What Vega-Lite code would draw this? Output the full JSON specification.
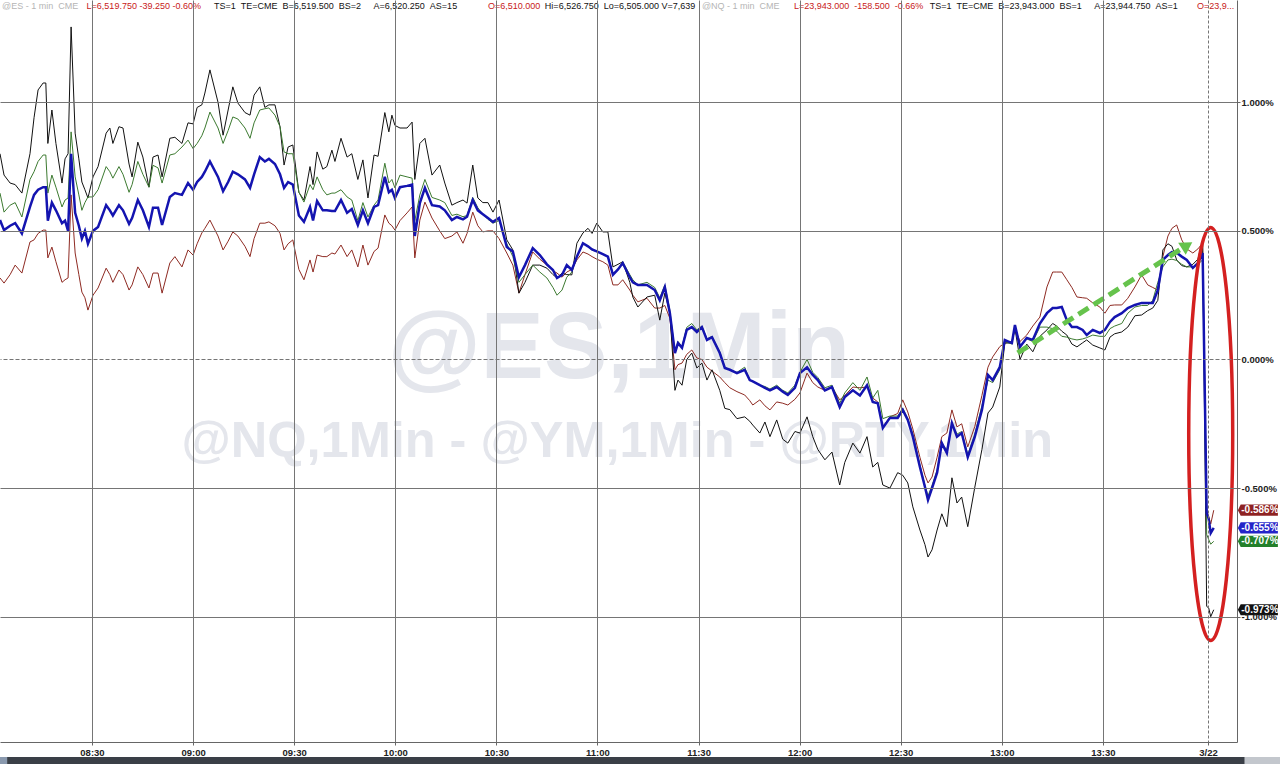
{
  "$schema": "https://vega.github.io/schema/vega-lite/v6.json",
  "width": 1237,
  "height": 742,
  "autosize": "none",
  "padding": {"left": 0, "top": 0, "right": 43, "bottom": 22},
  "background": "white",
  "config": {"view": {"stroke": null}},
  "data": {"values": [{}]},
  "datasets": {
    "series": [
      {"t": 2.7, "es": 0.542, "nq": 0.647, "rty": 0.8, "ym": 0.317},
      {"t": 3.9, "es": 0.503, "nq": 0.573, "rty": 0.717, "ym": 0.297},
      {"t": 5.7, "es": 0.52, "nq": 0.6, "rty": 0.686, "ym": 0.33},
      {"t": 7.2, "es": 0.53, "nq": 0.61, "rty": 0.68, "ym": 0.367},
      {"t": 9.2, "es": 0.49, "nq": 0.554, "rty": 0.647, "ym": 0.336},
      {"t": 11.6, "es": 0.593, "nq": 0.7, "rty": 0.8, "ym": 0.457},
      {"t": 12.8, "es": 0.64, "nq": 0.73, "rty": 0.94, "ym": 0.465},
      {"t": 14.0, "es": 0.66, "nq": 0.77, "rty": 1.048, "ym": 0.49},
      {"t": 15.5, "es": 0.67, "nq": 0.795, "rty": 1.075, "ym": 0.503},
      {"t": 16.3, "es": 0.67, "nq": 0.795, "rty": 1.075, "ym": 0.503},
      {"t": 16.9, "es": 0.54, "nq": 0.647, "rty": 0.84, "ym": 0.395},
      {"t": 18.1, "es": 0.61, "nq": 0.717, "rty": 0.97, "ym": 0.437},
      {"t": 19.3, "es": 0.58, "nq": 0.67, "rty": 0.84, "ym": 0.38},
      {"t": 21.1, "es": 0.53, "nq": 0.593, "rty": 0.686, "ym": 0.3},
      {"t": 22.0, "es": 0.54, "nq": 0.62, "rty": 0.78, "ym": 0.31},
      {"t": 22.9, "es": 0.5, "nq": 0.628, "rty": 0.8, "ym": 0.317},
      {"t": 23.8, "es": 0.8, "nq": 0.885, "rty": 1.293, "ym": 0.64},
      {"t": 25.0, "es": 0.57, "nq": 0.71, "rty": 0.88, "ym": 0.414},
      {"t": 26.1, "es": 0.52, "nq": 0.64, "rty": 0.78, "ym": 0.33},
      {"t": 27.0, "es": 0.47, "nq": 0.58, "rty": 0.69, "ym": 0.262},
      {"t": 27.9, "es": 0.5, "nq": 0.61, "rty": 0.66, "ym": 0.24},
      {"t": 28.8, "es": 0.45, "nq": 0.632, "rty": 0.628, "ym": 0.192},
      {"t": 30.3, "es": 0.5, "nq": 0.632, "rty": 0.71, "ym": 0.25},
      {"t": 31.8, "es": 0.515, "nq": 0.66, "rty": 0.75, "ym": 0.278},
      {"t": 34.2, "es": 0.6, "nq": 0.75, "rty": 0.88, "ym": 0.355},
      {"t": 35.3, "es": 0.58, "nq": 0.73, "rty": 0.9, "ym": 0.33},
      {"t": 36.2, "es": 0.56, "nq": 0.705, "rty": 0.84, "ym": 0.3},
      {"t": 38.0, "es": 0.6, "nq": 0.75, "rty": 0.905, "ym": 0.348},
      {"t": 39.2, "es": 0.58, "nq": 0.72, "rty": 0.9, "ym": 0.33},
      {"t": 41.0, "es": 0.527, "nq": 0.65, "rty": 0.76, "ym": 0.27},
      {"t": 41.9, "es": 0.55, "nq": 0.68, "rty": 0.71, "ym": 0.29},
      {"t": 43.6, "es": 0.62, "nq": 0.77, "rty": 0.845, "ym": 0.36},
      {"t": 45.1, "es": 0.58, "nq": 0.72, "rty": 0.787, "ym": 0.33},
      {"t": 46.9, "es": 0.515, "nq": 0.67, "rty": 0.67, "ym": 0.278},
      {"t": 48.1, "es": 0.59, "nq": 0.755, "rty": 0.787, "ym": 0.336},
      {"t": 49.6, "es": 0.59, "nq": 0.745, "rty": 0.795, "ym": 0.336},
      {"t": 50.8, "es": 0.523, "nq": 0.686, "rty": 0.71, "ym": 0.258},
      {"t": 53.1, "es": 0.632, "nq": 0.795, "rty": 0.86, "ym": 0.375},
      {"t": 54.6, "es": 0.647, "nq": 0.8, "rty": 0.864, "ym": 0.4},
      {"t": 56.7, "es": 0.64, "nq": 0.826, "rty": 0.84, "ym": 0.36},
      {"t": 58.5, "es": 0.686, "nq": 0.853, "rty": 0.92, "ym": 0.426},
      {"t": 60.0, "es": 0.66, "nq": 0.82, "rty": 0.916, "ym": 0.406},
      {"t": 61.2, "es": 0.69, "nq": 0.84, "rty": 0.98, "ym": 0.45},
      {"t": 62.6, "es": 0.71, "nq": 0.87, "rty": 0.99, "ym": 0.492},
      {"t": 63.5, "es": 0.73, "nq": 0.9, "rty": 1.036, "ym": 0.51},
      {"t": 65.0, "es": 0.77, "nq": 0.962, "rty": 1.126, "ym": 0.542},
      {"t": 67.4, "es": 0.71, "nq": 0.9, "rty": 1.0, "ym": 0.48},
      {"t": 68.9, "es": 0.654, "nq": 0.84, "rty": 0.872, "ym": 0.426},
      {"t": 70.4, "es": 0.69, "nq": 0.89, "rty": 0.97, "ym": 0.46},
      {"t": 71.8, "es": 0.73, "nq": 0.943, "rty": 1.06, "ym": 0.496},
      {"t": 73.3, "es": 0.72, "nq": 0.935, "rty": 0.997, "ym": 0.48},
      {"t": 75.4, "es": 0.7, "nq": 0.9, "rty": 0.96, "ym": 0.44},
      {"t": 76.9, "es": 0.667, "nq": 0.86, "rty": 0.95, "ym": 0.4},
      {"t": 78.1, "es": 0.72, "nq": 0.92, "rty": 1.028, "ym": 0.47},
      {"t": 79.8, "es": 0.787, "nq": 0.97, "rty": 1.06, "ym": 0.53},
      {"t": 81.3, "es": 0.77, "nq": 0.975, "rty": 0.98, "ym": 0.53},
      {"t": 82.5, "es": 0.78, "nq": 0.978, "rty": 0.99, "ym": 0.535},
      {"t": 84.3, "es": 0.76, "nq": 0.95, "rty": 0.99, "ym": 0.52},
      {"t": 85.8, "es": 0.72, "nq": 0.905, "rty": 0.905, "ym": 0.49},
      {"t": 87.0, "es": 0.667, "nq": 0.807, "rty": 0.756, "ym": 0.426},
      {"t": 88.2, "es": 0.69, "nq": 0.8, "rty": 0.826, "ym": 0.45},
      {"t": 89.6, "es": 0.68, "nq": 0.8, "rty": 0.834, "ym": 0.465},
      {"t": 91.4, "es": 0.56, "nq": 0.65, "rty": 0.65, "ym": 0.35},
      {"t": 92.9, "es": 0.535, "nq": 0.612, "rty": 0.62, "ym": 0.31},
      {"t": 94.7, "es": 0.593, "nq": 0.68, "rty": 0.75, "ym": 0.387},
      {"t": 95.6, "es": 0.54, "nq": 0.66, "rty": 0.68, "ym": 0.34},
      {"t": 96.8, "es": 0.616, "nq": 0.71, "rty": 0.807, "ym": 0.406},
      {"t": 98.5, "es": 0.58, "nq": 0.66, "rty": 0.74, "ym": 0.4},
      {"t": 99.7, "es": 0.58, "nq": 0.64, "rty": 0.75, "ym": 0.4},
      {"t": 101.2, "es": 0.577, "nq": 0.647, "rty": 0.814, "ym": 0.414},
      {"t": 102.1, "es": 0.577, "nq": 0.647, "rty": 0.77, "ym": 0.41},
      {"t": 103.9, "es": 0.62, "nq": 0.66, "rty": 0.86, "ym": 0.445},
      {"t": 105.7, "es": 0.57, "nq": 0.632, "rty": 0.787, "ym": 0.4},
      {"t": 107.1, "es": 0.585, "nq": 0.62, "rty": 0.8, "ym": 0.426},
      {"t": 108.9, "es": 0.523, "nq": 0.54, "rty": 0.7, "ym": 0.36},
      {"t": 110.4, "es": 0.58, "nq": 0.61, "rty": 0.776, "ym": 0.445},
      {"t": 111.9, "es": 0.53, "nq": 0.554, "rty": 0.628, "ym": 0.367},
      {"t": 113.7, "es": 0.593, "nq": 0.6, "rty": 0.795, "ym": 0.42},
      {"t": 114.9, "es": 0.6, "nq": 0.62, "rty": 0.79, "ym": 0.433},
      {"t": 116.9, "es": 0.71, "nq": 0.763, "rty": 0.96, "ym": 0.562},
      {"t": 118.1, "es": 0.65, "nq": 0.686, "rty": 0.885, "ym": 0.53},
      {"t": 119.0, "es": 0.66, "nq": 0.7, "rty": 0.95, "ym": 0.52},
      {"t": 119.9, "es": 0.628, "nq": 0.667, "rty": 0.91, "ym": 0.503},
      {"t": 121.4, "es": 0.67, "nq": 0.717, "rty": 0.9, "ym": 0.54},
      {"t": 123.5, "es": 0.675, "nq": 0.71, "rty": 0.9, "ym": 0.57},
      {"t": 125.0, "es": 0.68, "nq": 0.705, "rty": 0.923, "ym": 0.593},
      {"t": 125.8, "es": 0.48, "nq": 0.54, "rty": 0.7, "ym": 0.395},
      {"t": 127.3, "es": 0.608, "nq": 0.64, "rty": 0.84, "ym": 0.542},
      {"t": 128.8, "es": 0.667, "nq": 0.7, "rty": 0.86, "ym": 0.612},
      {"t": 130.9, "es": 0.6, "nq": 0.63, "rty": 0.717, "ym": 0.55},
      {"t": 133.2, "es": 0.595, "nq": 0.62, "rty": 0.756, "ym": 0.5},
      {"t": 134.7, "es": 0.58, "nq": 0.61, "rty": 0.686, "ym": 0.47},
      {"t": 136.8, "es": 0.542, "nq": 0.56, "rty": 0.6, "ym": 0.48},
      {"t": 138.3, "es": 0.554, "nq": 0.565, "rty": 0.61, "ym": 0.496},
      {"t": 140.1, "es": 0.545, "nq": 0.555, "rty": 0.62, "ym": 0.452},
      {"t": 141.3, "es": 0.555, "nq": 0.56, "rty": 0.608, "ym": 0.49},
      {"t": 143.0, "es": 0.62, "nq": 0.63, "rty": 0.756, "ym": 0.573},
      {"t": 144.5, "es": 0.58, "nq": 0.59, "rty": 0.628, "ym": 0.52},
      {"t": 146.0, "es": 0.565, "nq": 0.565, "rty": 0.61, "ym": 0.496},
      {"t": 147.5, "es": 0.55, "nq": 0.545, "rty": 0.61, "ym": 0.5},
      {"t": 149.0, "es": 0.535, "nq": 0.53, "rty": 0.573, "ym": 0.5},
      {"t": 150.8, "es": 0.55, "nq": 0.54, "rty": 0.62, "ym": 0.47},
      {"t": 153.1, "es": 0.437, "nq": 0.45, "rty": 0.465, "ym": 0.414},
      {"t": 154.9, "es": 0.42, "nq": 0.4, "rty": 0.426, "ym": 0.367},
      {"t": 156.7, "es": 0.32, "nq": 0.3, "rty": 0.258, "ym": 0.258},
      {"t": 158.5, "es": 0.367, "nq": 0.33, "rty": 0.3, "ym": 0.33},
      {"t": 160.8, "es": 0.433, "nq": 0.367, "rty": 0.367, "ym": 0.418},
      {"t": 162.9, "es": 0.406, "nq": 0.34, "rty": 0.367, "ym": 0.39},
      {"t": 165.0, "es": 0.37, "nq": 0.317, "rty": 0.355, "ym": 0.367},
      {"t": 166.8, "es": 0.348, "nq": 0.28, "rty": 0.33, "ym": 0.345},
      {"t": 168.0, "es": 0.317, "nq": 0.25, "rty": 0.317, "ym": 0.336},
      {"t": 169.5, "es": 0.329, "nq": 0.27, "rty": 0.336, "ym": 0.32},
      {"t": 170.9, "es": 0.367, "nq": 0.32, "rty": 0.33, "ym": 0.34},
      {"t": 172.4, "es": 0.348, "nq": 0.34, "rty": 0.329, "ym": 0.35},
      {"t": 173.9, "es": 0.4, "nq": 0.4, "rty": 0.452, "ym": 0.387},
      {"t": 175.7, "es": 0.452, "nq": 0.45, "rty": 0.492, "ym": 0.418},
      {"t": 177.2, "es": 0.44, "nq": 0.44, "rty": 0.51, "ym": 0.41},
      {"t": 178.4, "es": 0.428, "nq": 0.425, "rty": 0.49, "ym": 0.4},
      {"t": 179.8, "es": 0.42, "nq": 0.42, "rty": 0.53, "ym": 0.39},
      {"t": 181.6, "es": 0.41, "nq": 0.41, "rty": 0.496, "ym": 0.38},
      {"t": 183.1, "es": 0.4, "nq": 0.4, "rty": 0.496, "ym": 0.367},
      {"t": 184.6, "es": 0.329, "nq": 0.335, "rty": 0.36, "ym": 0.29},
      {"t": 186.1, "es": 0.35, "nq": 0.35, "rty": 0.37, "ym": 0.29},
      {"t": 187.5, "es": 0.375, "nq": 0.38, "rty": 0.38, "ym": 0.31},
      {"t": 189.6, "es": 0.32, "nq": 0.33, "rty": 0.3, "ym": 0.27},
      {"t": 190.5, "es": 0.3, "nq": 0.31, "rty": 0.243, "ym": 0.25},
      {"t": 192.0, "es": 0.29, "nq": 0.29, "rty": 0.204, "ym": 0.224},
      {"t": 194.7, "es": 0.29, "nq": 0.3, "rty": 0.243, "ym": 0.238},
      {"t": 197.0, "es": 0.27, "nq": 0.28, "rty": 0.25, "ym": 0.2},
      {"t": 198.5, "es": 0.23, "nq": 0.24, "rty": 0.153, "ym": 0.2},
      {"t": 200.0, "es": 0.282, "nq": 0.29, "rty": 0.258, "ym": 0.21},
      {"t": 201.5, "es": 0.18, "nq": 0.19, "rty": 0.18, "ym": 0.16},
      {"t": 203.0, "es": 0.025, "nq": 0.03, "rty": -0.12, "ym": -0.04},
      {"t": 203.9, "es": 0.064, "nq": 0.07, "rty": -0.08, "ym": -0.02},
      {"t": 205.1, "es": 0.045, "nq": 0.05, "rty": -0.1, "ym": -0.014},
      {"t": 206.5, "es": 0.115, "nq": 0.125, "rty": 0.0, "ym": 0.02},
      {"t": 208.0, "es": 0.126, "nq": 0.14, "rty": 0.025, "ym": 0.037},
      {"t": 209.5, "es": 0.107, "nq": 0.115, "rty": -0.033, "ym": 0.006},
      {"t": 211.0, "es": 0.126, "nq": 0.13, "rty": -0.014, "ym": 0.0},
      {"t": 212.5, "es": 0.076, "nq": 0.08, "rty": -0.08, "ym": -0.03},
      {"t": 214.0, "es": 0.087, "nq": 0.09, "rty": -0.04, "ym": -0.045},
      {"t": 216.3, "es": 0.025, "nq": 0.03, "rty": -0.12, "ym": -0.068},
      {"t": 217.8, "es": -0.033, "nq": -0.03, "rty": -0.19, "ym": -0.09},
      {"t": 219.3, "es": -0.04, "nq": -0.04, "rty": -0.195, "ym": -0.11},
      {"t": 221.4, "es": -0.053, "nq": -0.05, "rty": -0.23, "ym": -0.125},
      {"t": 223.7, "es": -0.04, "nq": -0.03, "rty": -0.223, "ym": -0.138},
      {"t": 225.2, "es": -0.08, "nq": -0.08, "rty": -0.24, "ym": -0.16},
      {"t": 226.1, "es": -0.085, "nq": -0.085, "rty": -0.255, "ym": -0.177},
      {"t": 228.2, "es": -0.1, "nq": -0.1, "rty": -0.286, "ym": -0.157},
      {"t": 229.7, "es": -0.11, "nq": -0.105, "rty": -0.243, "ym": -0.18},
      {"t": 231.2, "es": -0.12, "nq": -0.115, "rty": -0.3, "ym": -0.196},
      {"t": 233.2, "es": -0.107, "nq": -0.1, "rty": -0.235, "ym": -0.165},
      {"t": 235.0, "es": -0.125, "nq": -0.12, "rty": -0.31, "ym": -0.17},
      {"t": 236.5, "es": -0.138, "nq": -0.13, "rty": -0.325, "ym": -0.177},
      {"t": 238.6, "es": -0.11, "nq": -0.1, "rty": -0.28, "ym": -0.155},
      {"t": 240.1, "es": -0.053, "nq": -0.05, "rty": -0.286, "ym": -0.13},
      {"t": 242.2, "es": -0.03, "nq": 0.0, "rty": -0.223, "ym": -0.053},
      {"t": 243.9, "es": -0.06, "nq": -0.05, "rty": -0.3, "ym": -0.09},
      {"t": 245.4, "es": -0.08, "nq": -0.07, "rty": -0.35, "ym": -0.107},
      {"t": 247.5, "es": -0.12, "nq": -0.11, "rty": -0.39, "ym": -0.12},
      {"t": 249.6, "es": -0.107, "nq": -0.1, "rty": -0.36, "ym": -0.107},
      {"t": 251.9, "es": -0.185, "nq": -0.17, "rty": -0.488, "ym": -0.157},
      {"t": 253.4, "es": -0.146, "nq": -0.13, "rty": -0.4, "ym": -0.14},
      {"t": 255.8, "es": -0.12, "nq": -0.09, "rty": -0.325, "ym": -0.107},
      {"t": 257.9, "es": -0.14, "nq": -0.12, "rty": -0.364, "ym": -0.11},
      {"t": 260.0, "es": -0.1, "nq": -0.068, "rty": -0.3, "ym": -0.107},
      {"t": 261.7, "es": -0.165, "nq": -0.15, "rty": -0.418, "ym": -0.15},
      {"t": 263.2, "es": -0.17, "nq": -0.12, "rty": -0.4, "ym": -0.165},
      {"t": 264.7, "es": -0.266, "nq": -0.23, "rty": -0.488, "ym": -0.262},
      {"t": 266.8, "es": -0.227, "nq": -0.22, "rty": -0.5, "ym": -0.223},
      {"t": 269.1, "es": -0.227, "nq": -0.22, "rty": -0.44, "ym": -0.21},
      {"t": 270.6, "es": -0.196, "nq": -0.19, "rty": -0.45, "ym": -0.157},
      {"t": 272.1, "es": -0.235, "nq": -0.23, "rty": -0.48, "ym": -0.204},
      {"t": 273.6, "es": -0.3, "nq": -0.29, "rty": -0.573, "ym": -0.27},
      {"t": 275.7, "es": -0.418, "nq": -0.41, "rty": -0.663, "ym": -0.38},
      {"t": 277.2, "es": -0.496, "nq": -0.49, "rty": -0.72, "ym": -0.45},
      {"t": 278.1, "es": -0.546, "nq": -0.53, "rty": -0.768, "ym": -0.48},
      {"t": 279.3, "es": -0.5, "nq": -0.49, "rty": -0.74, "ym": -0.457},
      {"t": 280.8, "es": -0.44, "nq": -0.43, "rty": -0.663, "ym": -0.38},
      {"t": 282.2, "es": -0.325, "nq": -0.33, "rty": -0.6, "ym": -0.3},
      {"t": 283.7, "es": -0.364, "nq": -0.35, "rty": -0.65, "ym": -0.286},
      {"t": 285.2, "es": -0.247, "nq": -0.25, "rty": -0.46, "ym": -0.196},
      {"t": 286.7, "es": -0.3, "nq": -0.29, "rty": -0.558, "ym": -0.262},
      {"t": 288.1, "es": -0.286, "nq": -0.28, "rty": -0.535, "ym": -0.25},
      {"t": 289.9, "es": -0.38, "nq": -0.37, "rty": -0.65, "ym": -0.34},
      {"t": 292.0, "es": -0.3, "nq": -0.29, "rty": -0.496, "ym": -0.26},
      {"t": 294.1, "es": -0.196, "nq": -0.18, "rty": -0.35, "ym": -0.14},
      {"t": 295.9, "es": -0.06, "nq": -0.08, "rty": -0.208, "ym": -0.03},
      {"t": 297.3, "es": -0.08, "nq": -0.09, "rty": -0.185, "ym": 0.01},
      {"t": 299.4, "es": -0.03, "nq": -0.04, "rty": -0.107, "ym": 0.05},
      {"t": 300.9, "es": 0.076, "nq": 0.07, "rty": 0.064, "ym": 0.064},
      {"t": 303.0, "es": 0.064, "nq": 0.06, "rty": 0.064, "ym": 0.07},
      {"t": 303.9, "es": 0.134, "nq": 0.13, "rty": 0.12, "ym": 0.12},
      {"t": 305.4, "es": 0.049, "nq": 0.05, "rty": 0.0, "ym": 0.07},
      {"t": 307.4, "es": 0.084, "nq": 0.08, "rty": 0.06, "ym": 0.095},
      {"t": 309.2, "es": 0.076, "nq": 0.07, "rty": 0.03, "ym": 0.13},
      {"t": 311.3, "es": 0.14, "nq": 0.126, "rty": 0.09, "ym": 0.165},
      {"t": 313.4, "es": 0.18, "nq": 0.126, "rty": 0.115, "ym": 0.282},
      {"t": 315.1, "es": 0.2, "nq": 0.12, "rty": 0.14, "ym": 0.34},
      {"t": 316.3, "es": 0.2, "nq": 0.11, "rty": 0.13, "ym": 0.34},
      {"t": 317.8, "es": 0.204, "nq": 0.09, "rty": 0.11, "ym": 0.34},
      {"t": 319.3, "es": 0.153, "nq": 0.087, "rty": 0.095, "ym": 0.31},
      {"t": 320.8, "es": 0.126, "nq": 0.08, "rty": 0.06, "ym": 0.28},
      {"t": 322.3, "es": 0.126, "nq": 0.076, "rty": 0.049, "ym": 0.243},
      {"t": 324.0, "es": 0.115, "nq": 0.08, "rty": 0.065, "ym": 0.24},
      {"t": 325.2, "es": 0.095, "nq": 0.085, "rty": 0.076, "ym": 0.238},
      {"t": 327.0, "es": 0.115, "nq": 0.095, "rty": 0.056, "ym": 0.22},
      {"t": 329.1, "es": 0.103, "nq": 0.09, "rty": 0.045, "ym": 0.204},
      {"t": 330.6, "es": 0.115, "nq": 0.09, "rty": 0.037, "ym": 0.18},
      {"t": 332.1, "es": 0.146, "nq": 0.12, "rty": 0.087, "ym": 0.21},
      {"t": 333.5, "es": 0.165, "nq": 0.13, "rty": 0.1, "ym": 0.212},
      {"t": 335.6, "es": 0.18, "nq": 0.14, "rty": 0.107, "ym": 0.212},
      {"t": 337.4, "es": 0.2, "nq": 0.18, "rty": 0.126, "ym": 0.238},
      {"t": 339.5, "es": 0.212, "nq": 0.204, "rty": 0.17, "ym": 0.282},
      {"t": 341.5, "es": 0.22, "nq": 0.21, "rty": 0.173, "ym": 0.329},
      {"t": 343.3, "es": 0.22, "nq": 0.21, "rty": 0.19, "ym": 0.29},
      {"t": 344.8, "es": 0.22, "nq": 0.23, "rty": 0.2, "ym": 0.28},
      {"t": 346.3, "es": 0.27, "nq": 0.3, "rty": 0.23, "ym": 0.27},
      {"t": 347.8, "es": 0.387, "nq": 0.36, "rty": 0.426, "ym": 0.4},
      {"t": 349.3, "es": 0.406, "nq": 0.387, "rty": 0.45, "ym": 0.48},
      {"t": 350.5, "es": 0.418, "nq": 0.39, "rty": 0.44, "ym": 0.51},
      {"t": 351.9, "es": 0.415, "nq": 0.385, "rty": 0.387, "ym": 0.523},
      {"t": 353.4, "es": 0.4, "nq": 0.37, "rty": 0.365, "ym": 0.465},
      {"t": 354.9, "es": 0.387, "nq": 0.36, "rty": 0.36, "ym": 0.43},
      {"t": 356.7, "es": 0.356, "nq": 0.36, "rty": 0.37, "ym": 0.414},
      {"t": 358.2, "es": 0.375, "nq": 0.37, "rty": 0.39, "ym": 0.43},
      {"t": 359.6, "es": 0.414, "nq": 0.387, "rty": 0.465, "ym": 0.452},
      {"t": 360.8, "es": -0.597, "nq": -0.68, "rty": -0.96, "ym": -0.59},
      {"t": 361.4, "es": -0.62, "nq": -0.7, "rty": -0.966, "ym": -0.61},
      {"t": 362.0, "es": -0.675, "nq": -0.718, "rty": -1.0, "ym": -0.64},
      {"t": 362.9, "es": -0.655, "nq": -0.707, "rty": -0.973, "ym": -0.586}
    ],
    "last": [
      {"s": "ym", "v": -0.586, "label": "-0.586%"},
      {"s": "es", "v": -0.655, "label": "-0.655%"},
      {"s": "nq", "v": -0.707, "label": "-0.707%"},
      {"s": "rty", "v": -0.973, "label": "-0.973%"}
    ]
  },
  "layer": [
    {
      "mark": {"type": "rect", "color": "#3A3F47"},
      "encoding": {
        "x": {"datum": 4.8, "type": "quantitative", "title": null},
        "x2": {"datum": 372.1},
        "y": {"datum": -1.5455, "type": "quantitative", "title": null},
        "y2": {"datum": -1.575}
      }
    },
    {
      "mark": {"type": "rect", "color": "#C3C7CD"},
      "encoding": {
        "x": {"datum": 372.1, "type": "quantitative", "title": null},
        "x2": {"datum": 382.6},
        "y": {"datum": -1.5455, "type": "quantitative", "title": null},
        "y2": {"datum": -1.575}
      }
    },
    {
      "mark": {"type": "rect", "color": "#8A99AE"},
      "encoding": {
        "x": {"datum": 2.7, "type": "quantitative", "title": null},
        "x2": {"datum": 4.8},
        "y": {"datum": -1.5455, "type": "quantitative", "title": null},
        "y2": {"datum": -1.575}
      }
    },
    {
      "mark": {"type": "text", "text": "@ES,1Min", "font": "Liberation Sans", "fontSize": 95, "fontWeight": "bold", "color": "#E4E6EC", "align": "center", "baseline": "alphabetic"},
      "encoding": {
        "x": {"datum": 186.4, "type": "quantitative", "title": null},
        "y": {"datum": -0.072, "type": "quantitative", "title": null}
      }
    },
    {
      "mark": {"type": "text", "text": "@NQ,1Min - @YM,1Min - @RTY,1Min", "font": "Liberation Sans", "fontSize": 50.5, "fontWeight": "bold", "color": "#E4E6EC", "align": "center", "baseline": "alphabetic"},
      "encoding": {
        "x": {"datum": 185.9, "type": "quantitative", "title": null},
        "y": {"datum": -0.379, "type": "quantitative", "title": null}
      }
    },
    {
      "data": {"name": "series"},
      "mark": {"type": "line", "color": "#8E2A22", "strokeWidth": 1},
      "encoding": {
        "x": {
          "field": "t", "type": "quantitative", "title": null,
          "scale": {"domain": [2.7, 369.8], "nice": false, "zero": false},
          "axis": {
            "values": [30, 60, 90, 120, 150, 180, 210, 240, 270, 300, 330, 361.2],
            "labelExpr": "datum.value > 360 ? '3/22' : (datum.value < 120 ? '0' : '') + floor(datum.value / 60 + 8) + ':' + (datum.value % 60 == 0 ? '00' : '30')",
            "title": null,
            "grid": true,
            "gridColor": "#757575",
            "gridWidth": 1,
            "gridDash": {"condition": {"test": "datum.value > 360", "value": [3, 2]}, "value": []},
            "domainColor": "#666666",
            "tickColor": "#666666",
            "tickSize": 3,
            "labelFont": "Liberation Sans",
            "labelFontSize": 9.5,
            "labelFontWeight": "bold",
            "labelColor": "#222222",
            "labelPadding": 2,
            "labelFlush": false,
            "labelOverlap": false,
            "zindex": 1
          }
        },
        "y": {
          "field": "ym", "type": "quantitative", "title": null,
          "scale": {"domain": [-1.4872, 1.3977], "nice": false, "zero": false},
          "axis": {
            "orient": "right",
            "values": [-1, -0.5, 0, 0.5, 1],
            "labelExpr": "(datum.value < 0 ? '-' : '') + format(abs(datum.value), '.3f') + '%'",
            "title": null,
            "grid": true,
            "gridColor": "#757575",
            "gridWidth": 1,
            "gridDash": {"condition": {"test": "datum.value == 0", "value": [4, 2]}, "value": []},
            "domainColor": "#666666",
            "tickColor": "#666666",
            "tickSize": 3,
            "labelFont": "Liberation Sans",
            "labelFontSize": 9.5,
            "labelFontWeight": "bold",
            "labelColor": "#222222",
            "labelPadding": 1,
            "labelOverlap": false,
            "zindex": 1
          }
        }
      }
    },
    {
      "data": {"name": "series"},
      "mark": {"type": "line", "color": "#111111", "strokeWidth": 1},
      "encoding": {
        "x": {"field": "t", "type": "quantitative", "title": null},
        "y": {"field": "rty", "type": "quantitative", "title": null}
      }
    },
    {
      "data": {"name": "series"},
      "mark": {"type": "line", "color": "#3C7A30", "strokeWidth": 1},
      "encoding": {
        "x": {"field": "t", "type": "quantitative", "title": null},
        "y": {"field": "nq", "type": "quantitative", "title": null}
      }
    },
    {
      "data": {"name": "series"},
      "mark": {"type": "line", "color": "#1414B0", "strokeWidth": 2.5},
      "encoding": {
        "x": {"field": "t", "type": "quantitative", "title": null},
        "y": {"field": "es", "type": "quantitative", "title": null}
      }
    },
    {
      "mark": {"type": "rule", "color": "#66C34C", "strokeWidth": 5, "strokeDash": [12, 6], "strokeCap": "butt"},
      "encoding": {
        "x": {"datum": 304.7, "type": "quantitative", "title": null},
        "y": {"datum": 0.0253, "type": "quantitative", "title": null},
        "x2": {"datum": 354.0},
        "y2": {"datum": 0.436}
      }
    },
    {
      "mark": {"type": "point", "shape": "triangle-right", "filled": true, "color": "#66C34C", "opacity": 1, "size": 200, "angle": -32.4},
      "encoding": {
        "x": {"datum": 355.0, "type": "quantitative", "title": null},
        "y": {"datum": 0.443, "type": "quantitative", "title": null}
      }
    },
    {
      "mark": {"type": "point", "shape": "M 0 -1 C 0.0588 -1 0.1065 -0.5523 0.1065 0 C 0.1065 0.5523 0.0588 1 0 1 C -0.0588 1 -0.1065 0.5523 -0.1065 0 C -0.1065 -0.5523 -0.0588 -1 0 -1 Z", "filled": false, "stroke": "#D42020", "strokeWidth": 3.5, "opacity": 1, "size": 170569},
      "encoding": {
        "x": {"datum": 362.0, "type": "quantitative", "title": null},
        "y": {"datum": -0.2897, "type": "quantitative", "title": null}
      }
    },
    {
      "data": {"name": "last"},
      "mark": {"type": "point", "shape": "M -1 0 L -0.86 -0.28 L 1 -0.28 L 1 0.28 L -0.86 0.28 Z", "filled": true, "opacity": 1, "size": 1600},
      "encoding": {
        "x": {"datum": 376.0, "type": "quantitative", "title": null},
        "y": {"field": "v", "type": "quantitative", "title": null},
        "color": {"field": "s", "type": "nominal", "legend": null, "scale": {"domain": ["ym", "es", "nq", "rty"], "range": ["#8E2222", "#2424C8", "#23802A", "#111111"]}}
      }
    },
    {
      "data": {"name": "last"},
      "mark": {"type": "text", "font": "Liberation Sans", "fontSize": 10, "fontWeight": "bold", "color": "white", "align": "center", "baseline": "middle"},
      "encoding": {
        "x": {"datum": 376.6, "type": "quantitative", "title": null},
        "y": {"field": "v", "type": "quantitative", "title": null},
        "text": {"field": "label"}
      }
    },
    {
      "mark": {"type": "text", "text": "@ES - 1 min\u00a0\u00a0CME", "font": "Liberation Sans", "fontSize": 9, "color": "#B5B5B5", "align": "left", "baseline": "alphabetic"},
      "encoding": {"x": {"datum": 3.3, "type": "quantitative", "title": null}, "y": {"datum": 1.363, "type": "quantitative", "title": null}}
    },
    {
      "mark": {"type": "text", "text": "L=6,519.750\u00a0-39.250\u00a0-0.60%", "font": "Liberation Sans", "fontSize": 9, "color": "#C82020", "align": "left", "baseline": "alphabetic"},
      "encoding": {"x": {"datum": 28.4, "type": "quantitative", "title": null}, "y": {"datum": 1.363, "type": "quantitative", "title": null}}
    },
    {
      "mark": {"type": "text", "text": "TS=1\u00a0\u00a0TE=CME\u00a0\u00a0B=6,519.500\u00a0\u00a0BS=2\u00a0\u00a0\u00a0\u00a0\u00a0A=6,520.250\u00a0\u00a0AS=15", "font": "Liberation Sans", "fontSize": 9, "color": "#111111", "align": "left", "baseline": "alphabetic"},
      "encoding": {"x": {"datum": 66.2, "type": "quantitative", "title": null}, "y": {"datum": 1.363, "type": "quantitative", "title": null}}
    },
    {
      "mark": {"type": "text", "text": "O=6,510.000", "font": "Liberation Sans", "fontSize": 9, "color": "#C82020", "align": "left", "baseline": "alphabetic"},
      "encoding": {"x": {"datum": 147.5, "type": "quantitative", "title": null}, "y": {"datum": 1.363, "type": "quantitative", "title": null}}
    },
    {
      "mark": {"type": "text", "text": "Hi=6,526.750\u00a0\u00a0Lo=6,505.000\u00a0V=7,639", "font": "Liberation Sans", "fontSize": 9, "color": "#111111", "align": "left", "baseline": "alphabetic"},
      "encoding": {"x": {"datum": 164.4, "type": "quantitative", "title": null}, "y": {"datum": 1.363, "type": "quantitative", "title": null}}
    },
    {
      "mark": {"type": "text", "text": "@NQ - 1 min\u00a0\u00a0CME", "font": "Liberation Sans", "fontSize": 9, "color": "#B5B5B5", "align": "left", "baseline": "alphabetic"},
      "encoding": {"x": {"datum": 211.0, "type": "quantitative", "title": null}, "y": {"datum": 1.363, "type": "quantitative", "title": null}}
    },
    {
      "mark": {"type": "text", "text": "L=23,943.000\u00a0\u00a0-158.500\u00a0\u00a0-0.66%", "font": "Liberation Sans", "fontSize": 9, "color": "#C82020", "align": "left", "baseline": "alphabetic"},
      "encoding": {"x": {"datum": 238.3, "type": "quantitative", "title": null}, "y": {"datum": 1.363, "type": "quantitative", "title": null}}
    },
    {
      "mark": {"type": "text", "text": "TS=1\u00a0\u00a0TE=CME\u00a0\u00a0B=23,943.000\u00a0\u00a0BS=1\u00a0\u00a0\u00a0\u00a0\u00a0A=23,944.750\u00a0\u00a0AS=1", "font": "Liberation Sans", "fontSize": 9, "color": "#111111", "align": "left", "baseline": "alphabetic"},
      "encoding": {"x": {"datum": 278.6, "type": "quantitative", "title": null}, "y": {"datum": 1.363, "type": "quantitative", "title": null}}
    },
    {
      "mark": {"type": "text", "text": "O=23,9...", "font": "Liberation Sans", "fontSize": 9, "color": "#C82020", "align": "left", "baseline": "alphabetic"},
      "encoding": {"x": {"datum": 357.9, "type": "quantitative", "title": null}, "y": {"datum": 1.363, "type": "quantitative", "title": null}}
    }
  ]
}
